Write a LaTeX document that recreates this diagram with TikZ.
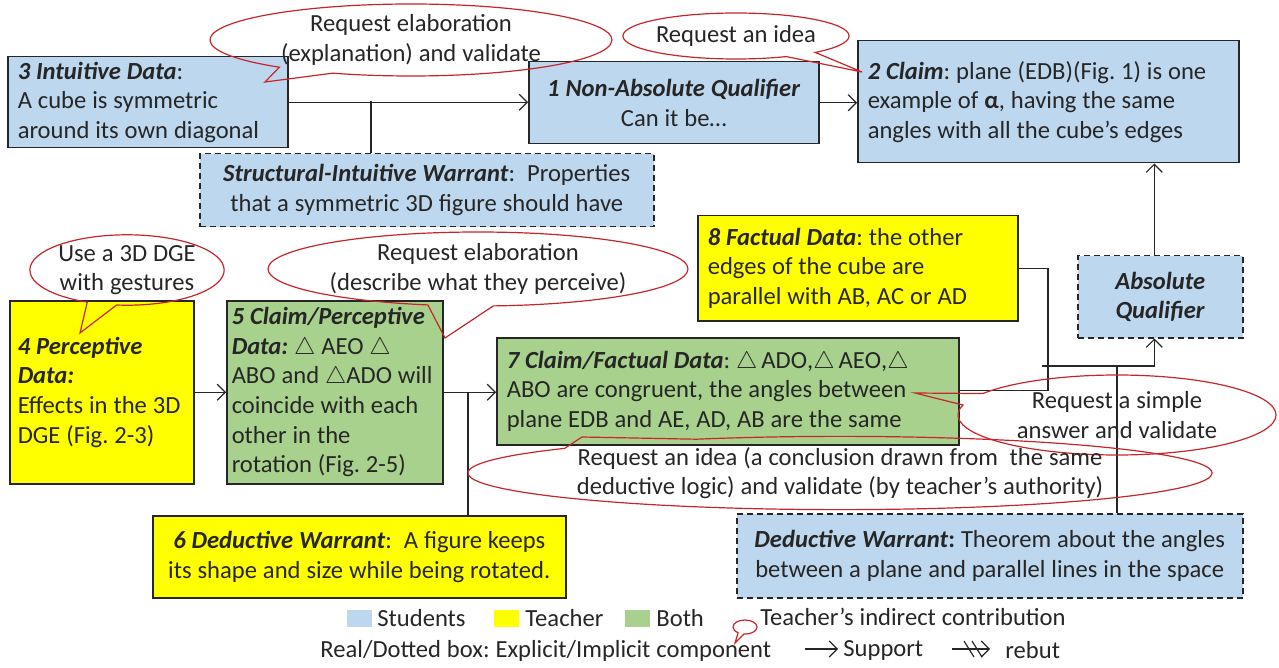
\documentclass[tikz,border=0pt]{standalone}
\usepackage{fontspec}
\setmainfont{Carlito}
\frenchspacing
\usetikzlibrary{shapes.geometric,shapes.callouts,arrows.meta}
\definecolor{stublue}{HTML}{BDD7EE}
\definecolor{teayellow}{HTML}{FFFF00}
\definecolor{bothgreen}{HTML}{A9D18E}
\definecolor{calred}{HTML}{C8252B}
\definecolor{edgegray}{HTML}{262626}
\newcommand{\bi}[1]{\textbf{\textit{#1}}}
\newcommand{\diagfont}{\fontsize{12.3}{14.8}\selectfont}
\begin{document}
\begin{tikzpicture}[x=0.5pt, y=-0.5pt,
execute at begin node={\spaceskip=0.24em\xspaceskip=0.24em\relax},
box/.style={draw=edgegray, line width=0.75pt, anchor=north west, inner xsep=5pt, inner ysep=1pt, font=\diagfont, text=black!85},
students/.style={box, fill=stublue},
teacher/.style={box, fill=teayellow},
both/.style={box, fill=bothgreen},
implicit/.style={dashed, dash pattern=on 3pt off 2pt},
bubble/.style={ellipse callout, draw=calred, line width=0.6pt, align=center, inner sep=0pt, callout pointer arc=18, font=\diagfont, text=black!85},
legtext/.style={anchor=west, inner sep=1pt, font=\diagfont, text=black!85},
legsq/.style={minimum width=12.5pt, minimum height=8.5pt, inner sep=0pt},
flow/.style={-{Straight Barb[length=4pt,width=8pt]}, draw=edgegray, line width=0.6pt},
link/.style={draw=edgegray, line width=0.6pt}
]
\useasboundingbox (0,0) rectangle (1279,668);
\node[students, text width=130pt, minimum height=45.5pt, align=left] (intuit) at (7,56) {\bi{3 Intuitive Data}:\\ A cube is symmetric\\ around its own diagonal};
\node[students, text width=135pt, minimum height=41pt, align=center] (nonabs) at (528,61) {\bi{1 Non-Absolute Qualifier}\\ Can it be…};
\node[students, text width=180.5pt, minimum height=61pt, align=left] (claim) at (857,40) {\bi{2 Claim}: plane (EDB)(Fig. 1) is one\\ example of \textbf{α}, having the same\\ angles with all the cube’s edges};
\node[students, implicit, text width=217pt, minimum height=36.5pt, align=center] (structw) at (199,153) {\bi{Structural-Intuitive Warrant}:~ Properties\\ that a symmetric 3D figure should have};
\node[teacher, text width=150pt, minimum height=52.5pt, align=left] (factual) at (697,215) {\bi{8 Factual Data}: the other\\ edges of the cube are\\ parallel with AB, AC or AD};
\node[students, implicit, text width=72.5pt, minimum height=41pt, align=center] (absq) at (1077,255) {\bi{Absolute}\\ \bi{Qualifier}};
\node[teacher, inner xsep=4pt, text width=84pt, minimum height=91.5pt, align=left] (percept) at (9,300) {\bi{4 Perceptive}\\ \bi{Data:}\\ Effects in the 3D\\ DGE (Fig. 2-3)};
\node[both, inner xsep=2.5pt, text width=103pt, minimum height=91.5pt, align=left] (claimp) at (226,300) {\bi{5 Claim/Perceptive}\\ \bi{Data:} $\triangle$ AEO $\triangle$\\ ABO and $\triangle$ADO will\\ coincide with each\\ other in the\\ rotation (Fig. 2-5)};
\node[both, text width=221pt, minimum height=53.5pt, align=left] (claimf) at (496,337) {\bi{7 Claim/Factual Data}: $\triangle\,\mathrm{ADO}$,$\triangle\,\mathrm{AEO}$,$\triangle$\\ ABO are congruent, the angles between\\ plane EDB and AE, AD, AB are the same};
\node[teacher, inner xsep=4pt, text width=198.5pt, minimum height=41pt, align=center] (dedw) at (152,515) {\bi{6 Deductive Warrant}:~ A figure keeps\\ its shape and size while being rotated.};
\node[students, implicit, text width=243pt, minimum height=42pt, align=center] (theorem) at (736,513) {\bi{Deductive Warrant}\textbf{:} Theorem about the angles\\ between a plane and parallel lines in the space};
\coordinate (j1) at (371,101.5);
\coordinate (j2) at (468,391.5);
\coordinate (j3) at (1048,390.5);
\coordinate (j4) at (1042,366);
\coordinate (j5) at (1117,366);
\coordinate (qtop) at ([xshift=-3pt]absq.north);
\coordinate (qbot) at ([xshift=-3pt]absq.south);
\draw[flow] (intuit.east) -- (nonabs.west |- intuit.east);
\draw[link] (j1) -- (j1 |- structw.north);
\draw[flow] (nonabs.east) -- (nonabs.east -| claim.west);
\draw[flow] (qtop) -- (qtop |- claim.south);
\draw[flow] (percept.east) -- (percept.east -| claimp.west);
\draw[flow] (claimp.east) -- (claimp.east -| claimf.west);
\draw[link] (j2) -- (j2 |- dedw.north);
\draw[link] (factual.east) -| (j3) -- (claimf.east |- j3);
\draw[flow] (j4) -| (qbot);
\draw[link] (j5) -- (j5 |- theorem.north);
\node[bubble, minimum width=201pt, minimum height=36pt, callout absolute pointer={(265,82)}] (ask1) at (411,40) {Request elaboration\\ (explanation) and validate};
\node[bubble, minimum width=104pt, minimum height=23pt, callout absolute pointer={(862,72)}] (ask2) at (736,36) {Request an idea};
\node[bubble, minimum width=92.5pt, minimum height=34pt, callout absolute pointer={(80,333)}] (ask3) at (127,270) {Use a 3D DGE\\ with gestures};
\node[bubble, minimum width=210pt, minimum height=37pt, callout absolute pointer={(445,338)}] (ask4) at (478,269) {Request elaboration\\ (describe what they perceive)};
\node[bubble, minimum width=159pt, minimum height=40pt, callout absolute pointer={(915,393)}] (ask5) at (1117,415) {Request a simple\\ answer and validate};
\node[bubble, minimum width=342pt, minimum height=33pt, callout pointer arc=25, callout absolute pointer={(582,437)}] (ask6) at (840,473) {Request an idea (a conclusion drawn from~ the same\\ deductive logic) and validate (by teacher’s authority)};
\node[legsq, fill=stublue] (sqs) at (359.5,618) {};
\node[legtext] (lstu) at (375,618) {Students};
\node[legsq, fill=teayellow] (sqt) at (506.5,618) {};
\node[legtext] (ltea) at (523,618) {Teacher};
\node[legsq, fill=bothgreen] (sqb) at (637.5,618) {};
\node[legtext] (lboth) at (654,618) {Both};
\node[bubble, minimum width=12pt, minimum height=7pt, callout pointer arc=30, callout absolute pointer={(735,643)}] (lbub) at (745,627) {};
\node[legtext] (lind) at (758,617) {Teacher’s indirect contribution};
\node[legtext] (lbox) at (318,651) {Real/Dotted box: Explicit/Implicit component};
\node[legtext] (lsup) at (841,650) {Support};
\node[legtext] (lreb) at (1003,650) {rebut};
\coordinate (sa) at (805,649);
\coordinate (ra) at (952,649);
\draw[flow, shorten >=1.5pt] (sa) -- (lsup.west |- sa);
\draw[flow] (ra) -- ++(38,0);
\draw[link] ([shift={(-4,-8)}]ra) ++(16,0) -- ++(10,16);
\draw[link] ([shift={(-4,-8)}]ra) ++(24,0) -- ++(10,16);
\end{tikzpicture}
\end{document}
